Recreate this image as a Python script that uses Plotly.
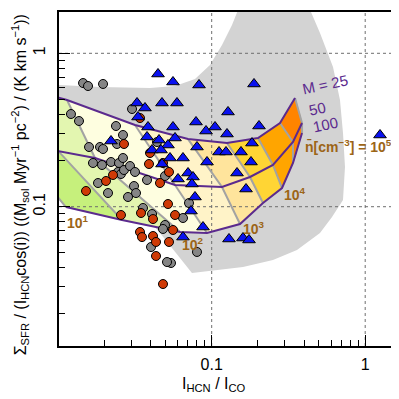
import numpy as np
import plotly.graph_objects as go

# ---------------- model grid (turbulence model) ----------------
n_exp = [1, 1.5, 2, 2.5, 3, 3.5, 4, 4.5, 5]          # log10 mean density
ratio_m25 = [0.00523, 0.00761, 0.01141, 0.03165, 0.0701, 0.1258, 0.2002, 0.2786, 0.3489]
sfe_m25 = [0.621, 0.559, 0.496, 0.341, 0.276, 0.260, 0.2805, 0.351, 0.511]
ratio_m50 = [0.00485, 0.0100, 0.01737, 0.0577, 0.1167, 0.1776, 0.2507, 0.3385, 0.3876]
sfe_m50 = [0.272, 0.2307, 0.2077, 0.1385, 0.1344, 0.1562, 0.187, 0.264, 0.351]
ratio_m100 = [0.01124, 0.02604, 0.0622, 0.0932, 0.1529, 0.2158, 0.2871, 0.3385, 0.3876]
sfe_m100 = [0.0995, 0.0819, 0.0684, 0.0674, 0.0771, 0.1057, 0.1324, 0.1927, 0.302]
mach_labels = ["M = 25", "50", "100"]
band_colors = ["#c6f07c", "#e3f6b0", "#fefee0", "#fff3c8", "#ffe49c", "#ffd534", "#ffa500", "#ff8400"]

# ---------------- observed region (gray envelope) ----------------
region_x = [0.00761, 0.01872, 0.03963, 0.0577, 0.07783, 0.0975, 0.1167, 0.1356, 0.1529, 0.424,
            0.5075, 0.617, 0.6851, 0.7167, 0.7385, 0.7167, 0.6078, 0.5075, 0.3594, 0.2507,
            0.1599, 0.1083, 0.07438, 0.04604, 0.03411, 0.00761]
region_y = [0.631, 0.603, 0.594, 0.612, 0.680, 0.839, 1.133, 1.529, 2.065, 2.065,
            1.356, 0.814, 0.496, 0.302, 0.1815, 0.1106, 0.0857, 0.0674, 0.0522, 0.0449,
            0.0405, 0.0387, 0.037, 0.0674, 0.0952, 0.272]

# ---------------- data points ----------------
gray_x = [0.01452, 0.01564, 0.01959, 0.01211, 0.01366, 0.03027, 0.02379, 0.02643, 0.02415, 0.01588,
          0.01872, 0.01959, 0.01685, 0.01929, 0.02208, 0.02489, 0.02643, 0.02452, 0.02564, 0.02683,
          0.02936, 0.03165, 0.03789, 0.01817, 0.03118, 0.02111, 0.03213, 0.02849, 0.03568, 0.04085,
          0.04964, 0.04816, 0.04024, 0.0543, 0.05115, 0.04402, 0.04964, 0.07114, 0.06501, 0.0802]
gray_y = [0.640, 0.612, 0.631, 0.402, 0.362, 0.4334, 0.3358, 0.2934, 0.2563, 0.245,
          0.245, 0.2377, 0.1927, 0.187, 0.1956, 0.1927, 0.2077, 0.1684, 0.1634, 0.1735,
          0.1842, 0.1684, 0.1493, 0.1427, 0.1364, 0.1228, 0.1228, 0.1157, 0.0981, 0.0896,
          0.076, 0.0716, 0.0546, 0.04295, 0.0436, 0.264, 0.1585, 0.1057, 0.0844, 0.0507]

red_x = [0.03411, 0.02683, 0.03963, 0.03904, 0.04816, 0.05269, 0.02275, 0.02049, 0.04604, 0.01518,
         0.05191, 0.02564, 0.03463, 0.04146, 0.0577, 0.05595, 0.03411, 0.03515, 0.04146, 0.04337,
         0.05269, 0.04337, 0.04816]
red_y = [0.3786, 0.2563, 0.2239, 0.1898, 0.1927, 0.1684, 0.161, 0.1471, 0.1427, 0.1266,
         0.1041, 0.0883, 0.091, 0.0831, 0.0883, 0.0705, 0.0684, 0.0634, 0.0644, 0.0589,
         0.0589, 0.0477, 0.03133]

blue_x = [0.04469, 0.05595, 0.08266, 0.1886, 0.03262, 0.03676, 0.04745, 0.0594, 0.1277, 0.03311,
          0.07901, 0.09182, 0.1051, 0.1258, 0.2033, 0.03846, 0.05595, 0.03789, 0.04536, 0.0577,
          0.02208, 0.05191, 0.0802, 0.183, 0.04085, 0.04674, 0.1116, 0.1239, 0.1552, 0.05349,
          0.06501, 0.04745, 0.0932, 0.1803, 0.0701, 0.0755, 0.06032, 0.1462, 0.07438, 0.1673,
          0.07783, 0.07329, 0.08777, 0.06501, 0.1296, 0.1599, 0.175, 1.2488]
blue_y = [0.7329, 0.650, 0.6215, 0.631, 0.4742, 0.4399, 0.4742, 0.4742, 0.4145, 0.3844,
          0.3566, 0.3114, 0.3308, 0.2978, 0.3358, 0.3308, 0.3308, 0.2848, 0.272, 0.2805,
          0.268, 0.2525, 0.245, 0.260, 0.2342, 0.2342, 0.2273, 0.2273, 0.2273, 0.2077,
          0.2077, 0.1898, 0.1956, 0.1956, 0.1658, 0.1562, 0.1516, 0.1658, 0.1406, 0.1304,
          0.1157, 0.0937, 0.0737, 0.0634, 0.0616, 0.0625, 0.0607, 0.2934]

# axis ticks
major_vals = [0.1, 1]
major_text = ["0.1", "1"]
minor_vals = [0.02, 0.03, 0.04, 0.05, 0.06, 0.07, 0.08, 0.09,
              0.2, 0.3, 0.4, 0.5, 0.6, 0.7, 0.8, 0.9]
x_range_log = [-1.9948, 0.1811]
y_range_log = [-1.908, 0.2692]

PURPLE = "#5b2a8e"
BROWN = "#9c6517"
FONT = "Liberation Sans, Arial, sans-serif"

fig = go.Figure()

# gray envelope
fig.add_trace(go.Scatter(x=region_x, y=region_y, mode="lines", fill="toself",
                         fillcolor="#d3d3d3", line=dict(width=0, color="#d3d3d3"),
                         hoverinfo="skip", showlegend=False))

# grid cells
curves = [(ratio_m25, sfe_m25), (ratio_m50, sfe_m50), (ratio_m100, sfe_m100)]
for r in range(2):
    ax_, ay_ = curves[r]
    bx_, by_ = curves[r + 1]
    for c in range(len(n_exp) - 1):
        xs = [ax_[c], ax_[c + 1], bx_[c + 1], bx_[c], ax_[c]]
        ys = [ay_[c], ay_[c + 1], by_[c + 1], by_[c], ay_[c]]
        fig.add_trace(go.Scatter(x=xs, y=ys, mode="lines", fill="toself",
                                 fillcolor=band_colors[c],
                                 line=dict(width=0.6, color=band_colors[c]),
                                 hoverinfo="skip", showlegend=False))

# dotted grid lines at major ticks
gx, gy = [], []
for v in major_vals:
    gx += [v, v, None]
    gy += [10 ** y_range_log[0], 10 ** y_range_log[1], None]
for v in major_vals:
    gx += [10 ** x_range_log[0], 10 ** x_range_log[1], None]
    gy += [v, v, None]
fig.add_trace(go.Scatter(x=gx, y=gy, mode="lines",
                         line=dict(color="#6e6e6e", width=1, dash="dot"),
                         hoverinfo="skip", showlegend=False))

# constant-density lines (gray)
lx, ly = [], []
for c in range(len(n_exp)):
    lx += [ratio_m25[c], ratio_m50[c], ratio_m100[c], None]
    ly += [sfe_m25[c], sfe_m50[c], sfe_m100[c], None]
fig.add_trace(go.Scatter(x=lx, y=ly, mode="lines", line=dict(color="#a3a3a3", width=2),
                         hoverinfo="skip", showlegend=False))

# constant-Mach lines (purple)
for cx, cy in curves:
    fig.add_trace(go.Scatter(x=cx, y=cy, mode="lines", line=dict(color=PURPLE, width=2),
                             hoverinfo="skip", showlegend=False))

# data points
fig.add_trace(go.Scatter(x=gray_x, y=gray_y, mode="markers",
                         marker=dict(symbol="circle", size=9, color="#858585",
                                     line=dict(color="black", width=1)), showlegend=False))
fig.add_trace(go.Scatter(x=red_x, y=red_y, mode="markers",
                         marker=dict(symbol="circle", size=9, color="#cf3a06",
                                     line=dict(color="black", width=1)), showlegend=False))
fig.add_trace(go.Scatter(x=blue_x, y=blue_y, mode="markers",
                         marker=dict(symbol="triangle-up", size=11, color="#0a12f0",
                                     line=dict(color="black", width=1)), showlegend=False))

annotations = []
# density labels at the M=100 curve
dens_idx = [0, 2, 4, 6]
dens_shift = [(-1, -4), (0, -1), (1, 7), (0, 5)]
for k, i in enumerate(dens_idx):
    annotations.append(dict(x=np.log10(ratio_m100[i]), y=np.log10(sfe_m100[i]), xref="x", yref="y",
                            text="<b>10<sup>%d</sup></b>" % n_exp[i], showarrow=False,
                            xanchor="left", yanchor="top",
                            xshift=dens_shift[k][0], yshift=dens_shift[k][1],
                            font=dict(size=14, color=BROWN, family=FONT)))
annotations.append(dict(x=np.log10(ratio_m100[-1]), y=np.log10(sfe_m100[-1]), xref="x", yref="y",
                        text="<b>n\u0304[cm<sup>\u22123</sup>] = 10<sup>%d</sup></b>" % n_exp[-1],
                        showarrow=False, xanchor="left", yanchor="top", xshift=1, yshift=-2,
                        font=dict(size=14, color=BROWN, family=FONT)))
# Mach labels
mach_shift = [(3, -2), (3, 2), (7, -5)]
for k, (cx, cy) in enumerate(curves):
    annotations.append(dict(x=np.log10(cx[-1]), y=np.log10(cy[-1]), xref="x", yref="y",
                            text=mach_labels[k], showarrow=False, textangle=-12,
                            xanchor="left", yanchor="bottom",
                            xshift=mach_shift[k][0], yshift=mach_shift[k][1],
                            font=dict(size=15, color=PURPLE, family=FONT)))
# axis titles
annotations.append(dict(x=0.464, y=-0.114, xref="paper", yref="paper", showarrow=False,
                        text="I<sub>HCN</sub> / I<sub>CO</sub>", xanchor="center", yanchor="middle",
                        font=dict(size=16, color="black", family=FONT)))
annotations.append(dict(x=-0.116, y=0.482, xref="paper", yref="paper", showarrow=False,
                        textangle=-90,
                        text="\u03a3<sub>SFR</sub> / (I<sub>HCN</sub>cos(i)) ((M<sub>sol</sub> Myr<sup>\u22121</sup> pc<sup>\u22122</sup>) / (K km s<sup>\u22121</sup>))",
                        xanchor="center", yanchor="middle",
                        font=dict(size=16, color="black", family=FONT)))

axis_common = dict(type="log", showline=True, linecolor="black", linewidth=1.5, mirror=True,
                   showgrid=False, zeroline=False, automargin=False,
                   ticks="inside", ticklen=11, tickwidth=1,
                   tickcolor="black", tickvals=major_vals, ticktext=major_text,
                   tickfont=dict(size=16, color="black", family=FONT),
                   minor=dict(ticks="inside", ticklen=6, tickwidth=1, tickcolor="black",
                              tickmode="array", tickvals=minor_vals, showgrid=False))

# the page body adds an 8px offset; the figure is sized so the plot area lands
# where the reference has it
fig.update_layout(
    width=391, height=391,
    margin=dict(l=51, r=6, t=4, b=53, autoexpand=False),
    paper_bgcolor="white", plot_bgcolor="white",
    font=dict(family=FONT, color="black"),
    showlegend=False,
    annotations=annotations,
    xaxis=dict(range=x_range_log, ticklabelstandoff=3, **axis_common),
    yaxis=dict(range=y_range_log, tickangle=-90, ticklabelstandoff=6, **axis_common),
)

fig.write_html("out.html")
